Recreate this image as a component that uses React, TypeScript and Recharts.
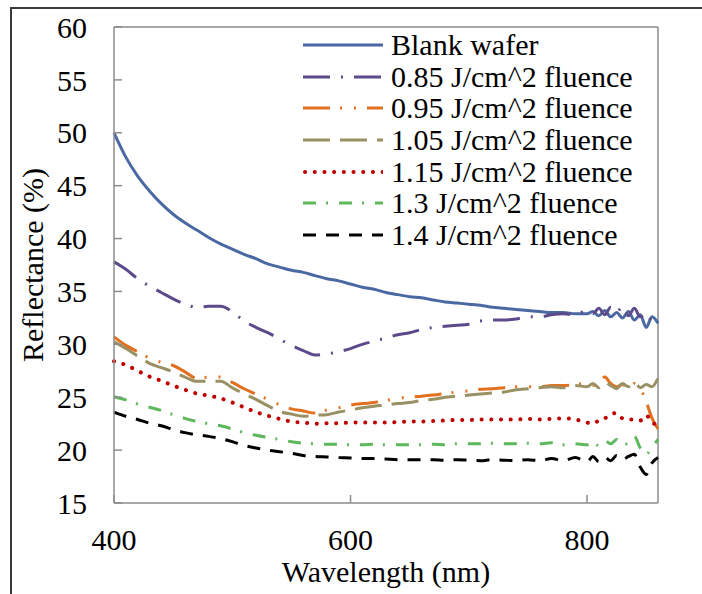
import { LineChart, Line, XAxis, YAxis, ReferenceLine } from "recharts";

const WAVELENGTH = [
  400, 410, 420, 430, 440, 450, 460, 470, 480, 490, 500, 510, 520, 530, 540,
  550, 560, 570, 580, 590, 600, 610, 620, 630, 640, 650, 660, 670, 680, 690,
  700, 710, 720, 730, 740, 750, 760, 770, 780, 790, 800, 805, 810, 815, 820,
  825, 830, 835, 840, 845, 850, 855, 860,
];

const BLANK = [
  50.0, 47.7, 45.9, 44.5, 43.3, 42.3, 41.5, 40.8, 40.1, 39.5, 39.0, 38.5, 38.1,
  37.6, 37.3, 37.0, 36.8, 36.5, 36.2, 36.0, 35.7, 35.4, 35.2, 34.9, 34.7, 34.5,
  34.4, 34.2, 34.0, 33.9, 33.8, 33.7, 33.5, 33.4, 33.3, 33.2, 33.1, 33.0, 33.0,
  32.9, 32.9, 33.1, 32.7, 33.2, 32.6, 33.0, 32.5, 33.1, 32.3, 32.8, 31.6, 32.6,
  32.0,
];

const F085 = [
  37.8, 37.1, 36.2, 35.5, 34.9, 34.3, 33.8, 33.5, 33.6, 33.6, 33.1, 32.2, 31.6,
  31.1, 30.5, 29.9, 29.4, 29.0, 29.1, 29.3, 29.6, 30.0, 30.3, 30.6, 30.9, 31.1,
  31.4, 31.6, 31.7, 31.8, 31.9, 32.2, 32.3, 32.3, 32.4, 32.6, 32.6, 32.8, 32.9,
  32.8, 33.2, 32.9, 33.4, 32.8, 33.5, 33.0, 33.6, 32.7, 33.4, 32.6, 33.0, 32.2,
  32.6,
];

const F095 = [
  30.7, 29.9, 29.3, 28.7, 28.3, 28.0, 27.4, 26.8, 26.9, 26.9, 26.4, 25.8, 25.3,
  24.8, 24.3, 23.9, 23.7, 23.5, 23.8, 24.0, 24.26, 24.4, 24.5, 24.7, 24.9, 25.0,
  25.1, 25.2, 25.35, 25.5, 25.6, 25.75, 25.8, 25.9, 26.0, 26.0, 26.0, 26.1, 26.1,
  26.2, 26.3, 26.1, 26.5, 26.9, 26.3, 26.0, 26.2, 25.9, 26.3, 25.8, 24.6, 23.0,
  22.0,
];

const F105 = [
  30.25, 29.6, 28.9, 28.2, 27.8, 27.4, 26.9, 26.5, 26.5, 26.5, 25.9, 25.3, 24.8,
  24.2, 23.65, 23.4, 23.2, 23.3, 23.35, 23.6, 23.8, 24.0, 24.15, 24.26, 24.4,
  24.5, 24.7, 24.8, 25.0, 25.1, 25.2, 25.3, 25.4, 25.5, 25.7, 25.8, 25.9, 26.0,
  25.9, 26.1, 26.0, 26.3, 25.9, 26.4, 26.1, 25.8, 26.3, 26.0, 26.4, 25.9, 26.2,
  26.0, 26.8,
];

const F115 = [
  28.4, 28.05, 27.5, 26.95, 26.55, 26.1, 25.7, 25.35, 25.15, 24.9, 24.5, 24.05,
  23.6, 23.25, 22.95, 22.7, 22.6, 22.5, 22.55, 22.55, 22.6, 22.6, 22.6, 22.6,
  22.65, 22.7, 22.7, 22.75, 22.8, 22.85, 22.85, 22.9, 22.9, 22.9, 22.9, 22.95,
  22.9, 22.95, 23.0, 22.9, 22.6, 22.5, 22.8, 23.0, 23.4, 23.5, 23.0, 22.9, 22.9,
  22.8, 23.3, 22.6, 22.4,
];

const F130 = [
  25.05, 24.75, 24.35, 24.05, 23.75, 23.35, 23.0, 22.7, 22.5, 22.3, 22.0, 21.65,
  21.4, 21.2, 21.0, 20.8, 20.65, 20.6, 20.55, 20.55, 20.5, 20.5, 20.55, 20.5,
  20.5, 20.5, 20.5, 20.55, 20.5, 20.6, 20.6, 20.6, 20.65, 20.6, 20.6, 20.65,
  20.6, 20.7, 20.5, 20.6, 20.5, 20.8, 20.4, 20.9, 20.6, 21.0, 20.5, 20.7, 21.3,
  20.2, 19.6, 20.3, 21.0,
];

const F140 = [
  23.6, 23.2, 22.9, 22.55, 22.3, 21.95, 21.65, 21.45, 21.3, 21.1, 20.8, 20.45,
  20.2, 20.0, 19.85, 19.7, 19.5, 19.4, 19.35, 19.3, 19.25, 19.2, 19.2, 19.15,
  19.1, 19.1, 19.1, 19.1, 19.05, 19.1, 19.05, 19.0, 19.1, 19.05, 19.0, 19.1,
  19.0, 19.2, 19.0, 19.3, 18.9, 19.4, 18.9, 19.3, 19.0, 19.5, 19.1, 19.4, 19.6,
  18.4, 17.7, 18.8, 19.3,
];

const Y_TICKS = [15, 20, 25, 30, 35, 40, 45, 50, 55, 60];
const X_TICKS = [400, 600, 800];

const SERIES = [
  { key: "blank", name: "Blank wafer", color: "#4a69a3", dash: undefined, cap: "butt" },
  { key: "f085", name: "0.85 J/cm^2 fluence", color: "#5c4a8b", dash: "27 11 2 11", cap: "butt" },
  { key: "f095", name: "0.95 J/cm^2 fluence", color: "#e2701e", dash: "27 10 2 12 2 11", cap: "butt" },
  { key: "f105", name: "1.05 J/cm^2 fluence", color: "#999163", dash: "27 10", cap: "butt" },
  { key: "f115", name: "1.15 J/cm^2 fluence", color: "#c00000", dash: "0.1 9.6", cap: "round" },
  { key: "f130", name: "1.3 J/cm^2 fluence", color: "#5cb85a", dash: "13 10 2 11", cap: "butt" },
  { key: "f140", name: "1.4 J/cm^2 fluence", color: "#000000", dash: "13 10", cap: "butt" },
];

const rows = WAVELENGTH.map((wl, i) => ({
  wl,
  blank: BLANK[i],
  f085: F085[i],
  f095: F095[i],
  f105: F105[i],
  f115: F115[i],
  f130: F130[i],
  f140: F140[i],
}));

const FONT = "'Liberation Serif', 'Times New Roman', serif";
const AXIS_GRAY = "#8c8c8c";

function ChartLegend() {
  return (
    <div style={{ position: "absolute", left: 303, top: 29, fontFamily: FONT, fontSize: 30 }}>
      {SERIES.map((s) => (
        <div key={s.key} style={{ display: "flex", alignItems: "center", height: 31.7 }}>
          <svg width={80} height={20} style={{ display: "block" }}>
            <line
              x1={s.cap === "round" ? 2 : 0}
              y1={10}
              x2={80}
              y2={10}
              stroke={s.color}
              strokeWidth={s.cap === "round" ? 4 : 3}
              strokeDasharray={s.dash}
              strokeLinecap={s.cap as any}
            />
          </svg>
          <span style={{ marginLeft: 8, lineHeight: "31.7px", whiteSpace: "nowrap" }}>{s.name}</span>
        </div>
      ))}
    </div>
  );
}

export default function App() {
  return (
    <div style={{ position: "absolute", left: 0, top: 0, width: 702, height: 594, overflow: "hidden", background: "#fff" }}>
      <div
        style={{
          position: "absolute",
          left: 10,
          top: 7,
          width: 800,
          height: 700,
          border: "2px solid #3a3a3a",
        }}
      />
      <LineChart
        width={702}
        height={594}
        data={rows}
        margin={{ top: 27, right: 44, bottom: 41, left: 0 }}
        style={{ position: "absolute", left: 0, top: 0 }}
      >
        <XAxis
          dataKey="wl"
          type="number"
          domain={[400, 860]}
          ticks={X_TICKS}
          height={50}
          tickSize={-8}
          tickMargin={34}
          stroke={AXIS_GRAY}
          strokeWidth={1.5}
          tick={{ fill: "#000", fontSize: 30, fontFamily: FONT }}
          label={{ value: "Wavelength (nm)", position: "bottom", offset: 8, fill: "#000", fontSize: 30, fontFamily: FONT }}
        />
        <YAxis
          type="number"
          domain={[15, 60]}
          ticks={Y_TICKS}
          width={114}
          tickSize={-8}
          tickMargin={35}
          stroke={AXIS_GRAY}
          strokeWidth={1.5}
          tick={{ fill: "#000", fontSize: 30, fontFamily: FONT }}
          label={{
            content: (props: any) => {
              const vb = props.viewBox || { x: 0, y: 27, width: 114, height: 476 };
              const cx = vb.x + 43;
              const cy = vb.y + vb.height / 2;
              return (
                <text
                  x={cx}
                  y={cy}
                  transform={`rotate(-90, ${cx}, ${cy})`}
                  textAnchor="middle"
                  fill="#000"
                  fontSize={30}
                  fontFamily={FONT}
                >
                  Reflectance (%)
                </text>
              );
            },
          }}
        />
        <ReferenceLine y={60} stroke={AXIS_GRAY} strokeWidth={1.5} />
        <ReferenceLine x={860} stroke={AXIS_GRAY} strokeWidth={1.5} />
        {SERIES.map((s) => (
          <Line
            key={s.key}
            dataKey={s.key}
            type="monotone"
            stroke={s.color}
            strokeWidth={s.cap === "round" ? 4 : 3}
            strokeDasharray={s.dash}
            strokeLinecap={s.cap as any}
            dot={false}
            activeDot={false}
            isAnimationActive={false}
          />
        ))}
      </LineChart>
      <ChartLegend />
    </div>
  );
}
